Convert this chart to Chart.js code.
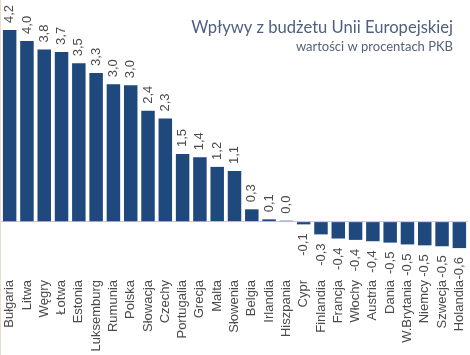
<!DOCTYPE html>
<html>
<head>
<meta charset="utf-8">
<script src="https://cdn.jsdelivr.net/npm/chart.js@4"></script>
<style>
  html, body { margin: 0; padding: 0; background: #ffffff; }
  #wrap { position: relative; width: 470px; height: 355px; border-left: 1px solid #e6dccf; box-sizing: border-box; }
  canvas { display: block; }
</style>
</head>
<body>
<div id="wrap"><canvas id="c" width="469" height="355"></canvas></div>
<script>
const countries = ["Bułgaria","Litwa","Węgry","Łotwa","Estonia","Luksemburg","Rumunia","Polska","Słowacja","Czechy","Portugalia","Grecja","Malta","Słowenia","Belgia","Irlandia","Hiszpania","Cypr","Finlandia","Francja","Włochy","Austria","Dania","W.Brytania","Niemcy","Szwecja","Holandia"];
const values = [4.2, 3.96, 3.77, 3.72, 3.47, 3.26, 3.01, 2.99, 2.43, 2.26, 1.48, 1.41, 1.2, 1.11, 0.27, 0.05, 0.02, -0.06, -0.28, -0.37, -0.4, -0.43, -0.46, -0.5, -0.52, -0.54, -0.58];
const valueLabels = ["4,2","4,0","3,8","3,7","3,5","3,3","3,0","3,0","2,4","2,3","1,5","1,4","1,2","1,1","0,3","0,1","0,0","-0,1","-0,3","-0,4","-0,4","-0,4","-0,5","-0,5","-0,5","-0,5","-0,6"];
const titleText = "Wpływy z budżetu Unii Europejskiej";
const subtitleText = "wartości w procentach PKB";

const labelFont = '13px "Liberation Sans", Arial, sans-serif';
const labelColor = '#4a4a4a';

const valueLabelPlugin = {
  id: 'valueLabels',
  afterDatasetsDraw(chart) {
    const ctx = chart.ctx;
    const meta = chart.getDatasetMeta(0);
    ctx.save();
    ctx.font = labelFont;
    ctx.fillStyle = labelColor;
    ctx.textBaseline = 'middle';
    meta.data.forEach((bar, i) => {
      const v = values[i];
      ctx.save();
      if (v >= 0) {
        ctx.translate(bar.x, bar.y - 7);
        ctx.rotate(-Math.PI / 2);
        ctx.textAlign = 'left';
      } else {
        ctx.translate(bar.x, bar.y + 9);
        ctx.rotate(-Math.PI / 2);
        ctx.textAlign = 'right';
      }
      ctx.fillText(valueLabels[i], 0, 0);
      ctx.restore();
    });
    ctx.restore();
  }
};

const categoryLabelPlugin = {
  id: 'categoryLabels',
  afterDraw(chart) {
    const ctx = chart.ctx;
    const xs = chart.scales.x;
    const top = chart.chartArea.bottom + 31;
    ctx.save();
    ctx.font = labelFont;
    ctx.fillStyle = labelColor;
    ctx.textBaseline = 'middle';
    ctx.textAlign = 'right';
    countries.forEach((name, i) => {
      ctx.save();
      ctx.translate(xs.getPixelForValue(i), top);
      ctx.rotate(-Math.PI / 2);
      ctx.fillText(name, 0, 0);
      ctx.restore();
    });
    ctx.restore();
  }
};

const titlePlugin = {
  id: 'cornerTitle',
  afterDraw(chart) {
    const ctx = chart.ctx;
    ctx.save();
    ctx.textAlign = 'right';
    ctx.textBaseline = 'alphabetic';
    ctx.fillStyle = '#4f5f7e';
    ctx.font = '16.6px Lato, "Open Sans", sans-serif';
    ctx.fillText(titleText, 452, 33);
    ctx.fillStyle = '#55627a';
    ctx.font = '13px Lato, "Open Sans", sans-serif';
    ctx.fillText(subtitleText, 452, 51);
    ctx.restore();
  }
};

new Chart(document.getElementById('c'), {
  type: 'bar',
  data: {
    labels: countries,
    datasets: [{
      data: values,
      backgroundColor: '#1f497d',
      borderWidth: 0,
      barPercentage: 0.78,
      categoryPercentage: 1.0
    }]
  },
  options: {
    responsive: false,
    animation: false,
    devicePixelRatio: 1,
    layout: { padding: { top: 30, left: 0, right: 2, bottom: 0 } },
    plugins: { legend: { display: false }, tooltip: { enabled: false } },
    scales: {
      x: {
        grid: { display: false },
        border: { display: false },
        ticks: { display: false },
        afterFit(s) { s.height = 106; }
      },
      y: {
        min: -0.6,
        max: 4.2,
        ticks: { display: false, stepSize: 0.6 },
        border: { display: false },
        grid: {
          drawTicks: false,
          color: (c) => (c.tick && c.tick.value === 0 ? '#d6c9b6' : 'rgba(0,0,0,0)'),
          lineWidth: 1
        },
        afterFit(s) { s.width = 0; }
      }
    }
  },
  plugins: [valueLabelPlugin, categoryLabelPlugin, titlePlugin]
});
</script>
</body>
</html>
